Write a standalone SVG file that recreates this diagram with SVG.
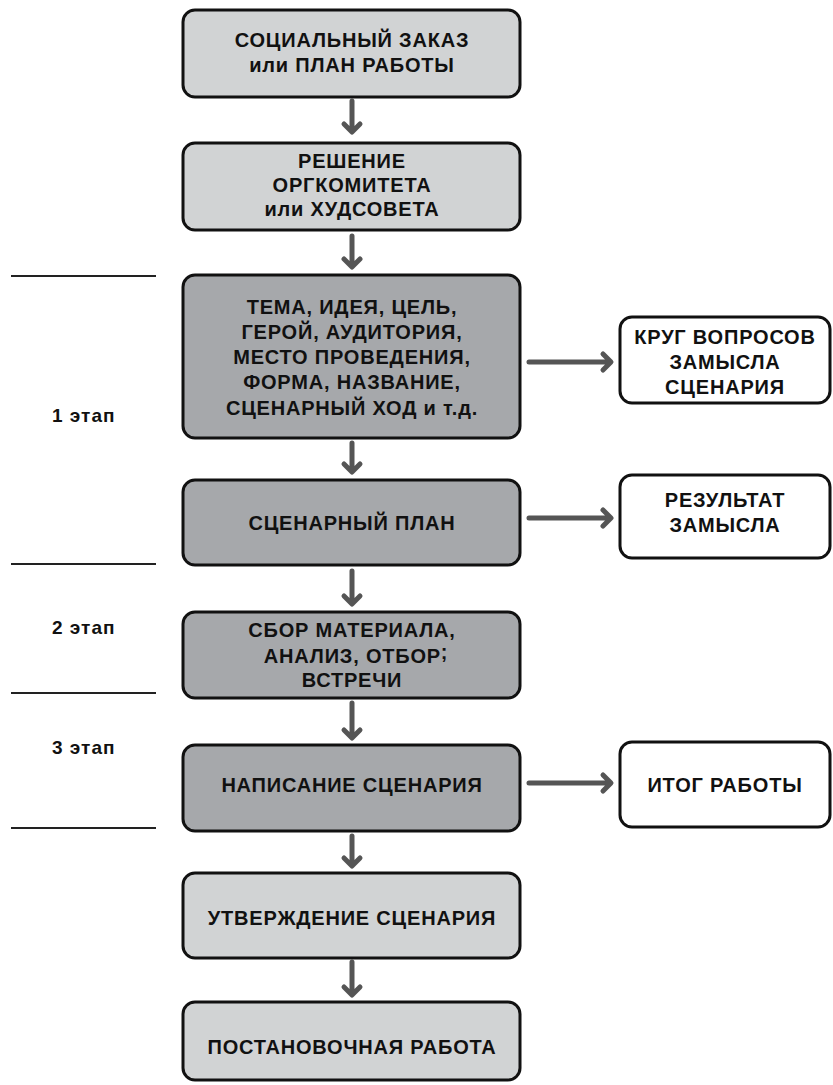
<svg xmlns="http://www.w3.org/2000/svg" width="833" height="1085" viewBox="0 0 833 1085">
<style>
.box{stroke:#111;stroke-width:3}
.light{fill:#d1d3d4}
.dark{fill:#a6a8ab}
.white{fill:#fff}
.t{font-family:"Liberation Sans",Arial,sans-serif;font-weight:bold;font-size:20px;letter-spacing:0.8px;fill:#111;text-anchor:middle}
.lbl{font-family:"Liberation Sans",Arial,sans-serif;font-weight:bold;font-size:19px;letter-spacing:1px;fill:#111}
.arr{stroke:#555;stroke-width:5;fill:none;stroke-linecap:round;stroke-linejoin:round}
.sep{stroke:#222;stroke-width:2}
</style>
<rect width="833" height="1085" fill="#fff"/>
<g id="stages">
<line class="sep" x1="11" y1="276" x2="156" y2="276"/>
<line class="sep" x1="11" y1="564" x2="156" y2="564"/>
<line class="sep" x1="11" y1="693" x2="156" y2="693"/>
<line class="sep" x1="11" y1="828" x2="156" y2="828"/>
<text class="lbl" x="52" y="422">1 этап</text>
<text class="lbl" x="52" y="634">2 этап</text>
<text class="lbl" x="52" y="754">3 этап</text>
</g>
<g id="connectors">
<path class="arr" d="M352 101 V131 M344 124 L352 132 L360 124"/>
<path class="arr" d="M352 236 V266 M344 259 L352 267 L360 259"/>
<path class="arr" d="M352 443 V471 M344 464 L352 472 L360 464"/>
<path class="arr" d="M352 571 V603 M344 596 L352 604 L360 596"/>
<path class="arr" d="M352 703 V737 M344 730 L352 738 L360 730"/>
<path class="arr" d="M352 836 V865 M344 858 L352 866 L360 858"/>
<path class="arr" d="M352 962 V994 M344 987 L352 995 L360 987"/>
<path class="arr" d="M529 362 H610 M603 354 L611 362 L603 370"/>
<path class="arr" d="M529 518 H610 M603 510 L611 518 L603 526"/>
<path class="arr" d="M529 783 H610 M603 775 L611 783 L603 791"/>
</g>
<g id="n1">
<rect class="box light" x="183" y="10" width="337" height="87" rx="12"/>
<text class="t" x="352" y="47">СОЦИАЛЬНЫЙ ЗАКАЗ</text>
<text class="t" x="352" y="72">или ПЛАН РАБОТЫ</text>
</g>
<g id="n2">
<rect class="box light" x="183" y="143" width="337" height="87" rx="12"/>
<text class="t" x="352" y="168">РЕШЕНИЕ</text>
<text class="t" x="352" y="192">ОРГКОМИТЕТА</text>
<text class="t" x="352" y="216">или ХУДСОВЕТА</text>
</g>
<g id="n3">
<rect class="box dark" x="183" y="275" width="337" height="163" rx="12"/>
<text class="t" x="352" y="314">ТЕМА, ИДЕЯ, ЦЕЛЬ,</text>
<text class="t" x="352" y="339">ГЕРОЙ, АУДИТОРИЯ,</text>
<text class="t" x="352" y="364">МЕСТО ПРОВЕДЕНИЯ,</text>
<text class="t" x="352" y="389">ФОРМА, НАЗВАНИЕ,</text>
<text class="t" x="352" y="415">СЦЕНАРНЫЙ ХОД и т.д.</text>
</g>
<g id="n4">
<rect class="box dark" x="183" y="480" width="337" height="85" rx="12"/>
<text class="t" x="352" y="530">СЦЕНАРНЫЙ ПЛАН</text>
</g>
<g id="n5">
<rect class="box dark" x="183" y="612" width="337" height="86" rx="12"/>
<text class="t" x="352" y="637">СБОР МАТЕРИАЛА,</text>
<text class="t" x="356" y="663">АНАЛИЗ, ОТБОР<tspan dy="-4">;</tspan></text>
<text class="t" x="352" y="687">ВСТРЕЧИ</text>
</g>
<g id="n6">
<rect class="box dark" x="183" y="745" width="337" height="86" rx="12"/>
<text class="t" x="352" y="792">НАПИСАНИЕ СЦЕНАРИЯ</text>
</g>
<g id="n7">
<rect class="box light" x="183" y="873" width="337" height="85" rx="12"/>
<text class="t" x="352" y="925">УТВЕРЖДЕНИЕ СЦЕНАРИЯ</text>
</g>
<g id="n8">
<rect class="box light" x="183" y="1002" width="337" height="78" rx="12"/>
<text class="t" x="352" y="1054">ПОСТАНОВОЧНАЯ РАБОТА</text>
</g>
<g id="r1">
<rect class="box white" x="620" y="317" width="210" height="86" rx="12"/>
<text class="t" x="725" y="344">КРУГ ВОПРОСОВ</text>
<text class="t" x="725" y="369">ЗАМЫСЛА</text>
<text class="t" x="725" y="394">СЦЕНАРИЯ</text>
</g>
<g id="r2">
<rect class="box white" x="620" y="475" width="210" height="83" rx="12"/>
<text class="t" x="725" y="507">РЕЗУЛЬТАТ</text>
<text class="t" x="725" y="532">ЗАМЫСЛА</text>
</g>
<g id="r3">
<rect class="box white" x="620" y="742" width="210" height="85" rx="12"/>
<text class="t" x="725" y="792">ИТОГ РАБОТЫ</text>
</g>
</svg>
